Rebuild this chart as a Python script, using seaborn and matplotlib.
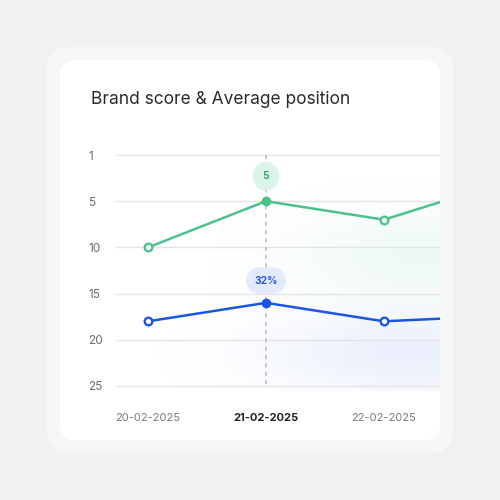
# Importações
import numpy as np
import pandas as pd
import matplotlib
matplotlib.use('Agg')
import matplotlib.pyplot as plt
import seaborn as sns
from matplotlib.patches import FancyBboxPatch

# Dados do gráfico
datas = ['20-02-2025', '21-02-2025', '22-02-2025', '23-02-2025']
brand_score = [10, 5, 7, 3]
avg_position = [18, 16, 18, 17.4]
ticks_y = [0, 5, 10, 15, 20, 25]
rotulos_y = ['1', '5', '10', '15', '20', '25']
destaque = 1  # índice da data selecionada
rotulo_verde = '5'
rotulo_azul = '32%'
titulo = 'Brand score & Average position'

verde = '#4bc28b'
azul = '#1b55e4'

df = pd.DataFrame({'x': range(len(datas)), 'data': datas,
                   'brand': brand_score, 'posicao': avg_position})

# Estilo
sns.set_theme(style='white')
plt.rcParams['font.family'] = ['Inter', 'DejaVu Sans']

fig = plt.figure(figsize=(5, 5), dpi=100)
fig.patch.set_facecolor('#f1f1f1')

# Moldura e cartão (atrás dos eixos)
fig.patches.append(FancyBboxPatch((0.094, 0.094), 0.812, 0.812,
                                  boxstyle='round,pad=0,rounding_size=0.045',
                                  transform=fig.transFigure, facecolor='#f7f7f7',
                                  edgecolor='none', zorder=-3))
fig.patches.append(FancyBboxPatch((0.12, 0.12), 0.76, 0.76,
                                  boxstyle='round,pad=0,rounding_size=0.032',
                                  transform=fig.transFigure, facecolor='white',
                                  edgecolor='none', zorder=-2))

fig.text(0.182, 0.801, titulo, fontsize=12.5, color='#2b2b2b', va='center')

ax = fig.add_axes([0.232, 0.2188, 0.648, 0.4804])
ax.set_facecolor('none')
x0, x1 = -0.271, 2.475

# Brilho suave de fundo
xx = np.linspace(x0, x1, 300)
yy = np.linspace(-0.5, 25.5, 300)
X, Y = np.meshgrid(xx, yy)
g_verde = np.exp(-(((X - 2.3) / 1.0) ** 2 + ((Y - 11) / 5.0) ** 2))
g_azul = np.exp(-(((X - 2.2) / 1.2) ** 2 + ((Y - 21.5) / 4.5) ** 2))
img = np.zeros((300, 300, 4))
cv = np.array(matplotlib.colors.to_rgb(verde))
ca = np.array(matplotlib.colors.to_rgb(azul))
a_v = 0.09 * g_verde
a_a = 0.09 * g_azul
alpha = a_v + a_a
img[..., :3] = (cv * a_v[..., None] + ca * a_a[..., None]) / np.maximum(alpha, 1e-6)[..., None]
img[..., 3] = np.clip(alpha, 0, 1)
ax.imshow(img, extent=[x0, x1, -0.5, 25.5], origin='lower', aspect='auto',
          zorder=0, interpolation='bilinear')

# Grade e linha tracejada
for t in ticks_y:
    ax.axhline(t, color='#e4e4e4', lw=1, zorder=1)
ax.vlines(destaque, ticks_y[0], ticks_y[-1], colors='#bdbdbd', lw=1.2,
          linestyles=(0, (2.5, 2.5)), zorder=2)

# Linhas
sns.lineplot(data=df, x='x', y='brand', color=verde, lw=1.8, ax=ax, zorder=3)
sns.lineplot(data=df, x='x', y='posicao', color=azul, lw=1.8, ax=ax, zorder=3)

# Marcadores: vazados e o selecionado preenchido
outros = df[df['x'] != destaque]
sel = df[df['x'] == destaque]
for col, cor in [('brand', verde), ('posicao', azul)]:
    ax.scatter(outros['x'], outros[col], s=30, facecolor='white', edgecolor=cor,
               linewidth=1.7, zorder=4)
    ax.scatter(sel['x'], sel[col], s=36, facecolor=cor, edgecolor=cor,
               linewidth=1, zorder=4)

# Balões
ax.annotate(rotulo_verde, (destaque, brand_score[destaque]), xytext=(0, 18),
            textcoords='offset points', ha='center', va='center', fontsize=7.5,
            color='#2aa36f', fontweight='semibold', zorder=5,
            bbox=dict(boxstyle='round,pad=0.95,rounding_size=1.6', fc='#dcf4e9', ec='none'))
ax.annotate(rotulo_azul, (destaque, avg_position[destaque]), xytext=(0, 16),
            textcoords='offset points', ha='center', va='center', fontsize=7.5,
            color='#1d4fd8', fontweight='semibold', zorder=5,
            bbox=dict(boxstyle='round,pad=0.8,rounding_size=1.5', fc='#e3eafc', ec='none'))

# Eixos
ax.set_yticks(ticks_y)
ax.set_yticklabels(rotulos_y, ha='left')
ax.set_xticks(df['x'])
ax.set_xticklabels(datas)
ax.tick_params(axis='y', length=0, pad=20, labelsize=8.5, labelcolor='#6b6b6b')
ax.tick_params(axis='x', length=0, pad=16, labelsize=8, labelcolor='#7a7a7a')
for i, lbl in enumerate(ax.get_xticklabels()):
    if i == destaque:
        lbl.set_fontweight('bold')
        lbl.set_color('#222222')
ax.set_xlabel('')
ax.set_ylabel('')
ax.set_xlim(x0, x1)
ax.set_ylim(25.5, -0.5)
sns.despine(ax=ax, left=True, bottom=True)

fig.savefig('out.png', dpi=100, facecolor=fig.get_facecolor())
